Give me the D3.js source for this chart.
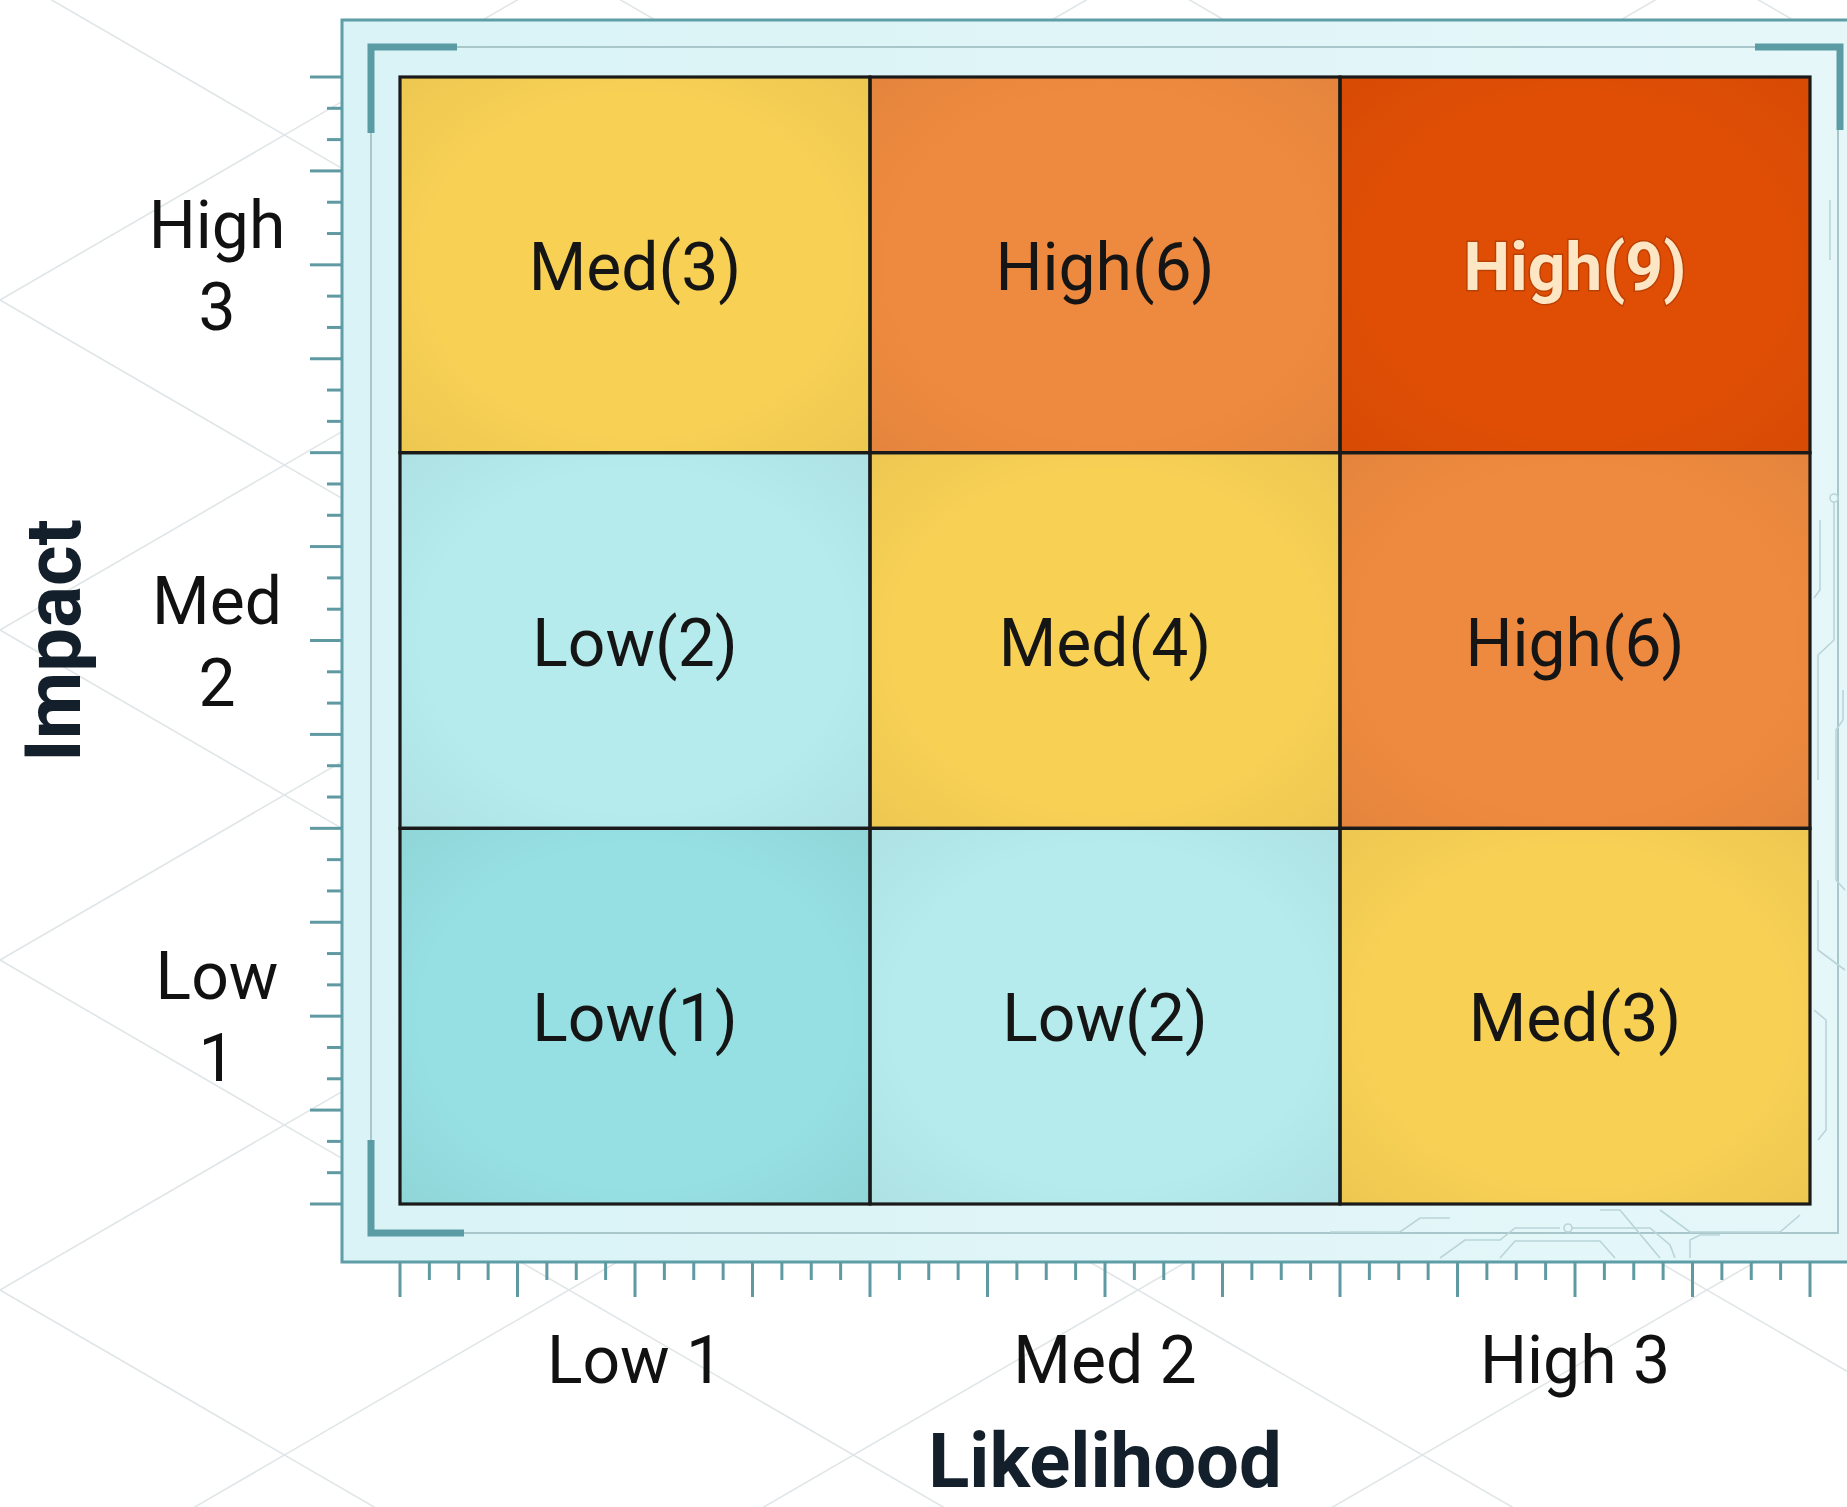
<!DOCTYPE html>
<html>
<head>
<meta charset="utf-8">
<script src="https://cdn.jsdelivr.net/npm/d3@7"></script>
<style>
  html, body { margin: 0; padding: 0; background: #ffffff; }
  svg { display: block; }
  text { font-family: Roboto, "Noto Sans", "Liberation Sans", sans-serif; }
</style>
</head>
<body>
<svg id="chart" width="1847" height="1507"></svg>
<script>
// ---------- data ----------
const likelihoodLabels = ["Low 1", "Med 2", "High 3"];
const impactLevels = ["Low", "Med", "High"];
const impactScores = ["1", "2", "3"];
// rows: impact Low, Med, High ; columns: likelihood Low, Med, High
const riskScores = [
  [1, 2, 3],
  [2, 4, 6],
  [3, 6, 9]
];
const riskRatings = [
  ["Low", "Low", "Med"],
  ["Low", "Med", "High"],
  ["Med", "High", "High"]
];
const scoreColors = { 1: "#96dfe2", 2: "#b5ebed", 3: "#f7d054", 4: "#f7d054", 6: "#ee8a3f", 9: "#e04e05" };

// ---------- layout ----------
const W = 1847, H = 1507;
const gx0 = 400, gx1 = 1810, gy0 = 77, gy1 = 1204;
const fx0 = 342, fy0 = 20, fy1 = 1262;

const svg = d3.select("#chart");

// background lattice
const bg = svg.append("g").attr("stroke", "#e0e6e8").attr("stroke-width", 1.6).attr("fill", "none");
const slope = 0.58, sp = 330;
for (let c = -3000; c < 3500; c += sp) {
  bg.append("line").attr("x1", 0).attr("y1", c).attr("x2", W).attr("y2", c + slope * W);
  bg.append("line").attr("x1", 0).attr("y1", c).attr("x2", W).attr("y2", c - slope * W);
}

// frame
const defs = svg.append("defs");
const fg = defs.append("linearGradient").attr("id", "frameFill").attr("x1", 0).attr("y1", 0).attr("x2", 1).attr("y2", 0);
fg.append("stop").attr("offset", 0).attr("stop-color", "#d9f3f6");
fg.append("stop").attr("offset", 1).attr("stop-color", "#e6f7f9");
svg.append("rect").attr("x", fx0).attr("y", fy0).attr("width", W + 40 - fx0).attr("height", fy1 - fy0)
  .attr("fill", "url(#frameFill)").attr("stroke", "#5e9ea7").attr("stroke-width", 3);

// inner thin lines
const inner = svg.append("g").attr("stroke", "#a9c6ca").attr("stroke-width", 2).attr("fill", "none");
inner.append("path").attr("d", `M371,47 H1838 V1233 H371 Z`);

// circuit decoration (faint)
const circ = svg.append("g").attr("stroke", "#b9d5d8").attr("stroke-width", 1.6).attr("fill", "none");
circ.append("path").attr("d", "M1330,1232 L1400,1232 L1420,1218 L1450,1218");
circ.append("path").attr("d", "M1440,1258 L1465,1240 L1500,1240 L1515,1228 L1560,1228");
circ.append("circle").attr("cx", 1568).attr("cy", 1228).attr("r", 4);
circ.append("path").attr("d", "M1572,1228 L1620,1228 L1650,1228 L1670,1245 L1675,1258");
circ.append("path").attr("d", "M1500,1258 L1515,1241 L1600,1241 L1615,1258");
circ.append("path").attr("d", "M1600,1210 L1620,1210 L1660,1258");
circ.append("path").attr("d", "M1660,1210 L1690,1232 L1780,1232 L1800,1215");
circ.append("path").attr("d", "M1690,1258 L1690,1240 L1700,1235 L1720,1235");
circ.append("path").attr("d", "M1830,200 L1830,260");
circ.append("circle").attr("cx", 1834).attr("cy", 498).attr("r", 4);
circ.append("path").attr("d", "M1834,502 L1834,640 L1818,655 L1818,780");
circ.append("path").attr("d", "M1820,520 L1820,590 L1814,598");
circ.append("path").attr("d", "M1843,690 L1843,720 L1836,730 L1836,880 L1845,890");
circ.append("path").attr("d", "M1818,880 L1818,950 L1845,970");
circ.append("path").attr("d", "M1814,1010 L1826,1020 L1826,1130 L1818,1140");

// corner brackets
const br = svg.append("g").attr("stroke", "#5a9ba4").attr("stroke-width", 7).attr("fill", "none");
br.append("path").attr("d", "M371,133 V47 H457");
br.append("path").attr("d", "M371,1140 V1233 H464");
br.append("path").attr("d", "M1755,47 H1840 V130");

// ---------- scales ----------
const x = d3.scaleBand().domain(likelihoodLabels).range([gx0, gx1]);
const y = d3.scaleBand().domain(impactLevels).range([gy1, gy0]);

// minor/major tick scales
const yt = d3.scaleLinear().domain([0, 36]).range([gy0, gy1]);
const xt = d3.scaleLinear().domain([0, 48]).range([gx0, gx1]);
const ticks = svg.append("g").attr("stroke", "#5f9aa2").attr("stroke-width", 3);
d3.range(0, 37).forEach(i => {
  ticks.append("line").attr("x1", i % 3 === 0 ? 310 : 327).attr("x2", fx0)
    .attr("y1", yt(i)).attr("y2", yt(i));
});
d3.range(0, 49).forEach(i => {
  ticks.append("line").attr("y1", fy1).attr("y2", i % 4 === 0 ? 1297 : 1280)
    .attr("x1", xt(i)).attr("x2", xt(i));
});

// ---------- cells ----------
const cells = [];
impactLevels.forEach((imp, r) => {
  likelihoodLabels.forEach((lik, c) => {
    cells.push({ imp, lik, score: riskScores[r][c], rating: riskRatings[r][c] });
  });
});

const cg = svg.append("g");
cg.selectAll("rect").data(cells).join("rect")
  .attr("x", d => x(d.lik)).attr("y", d => y(d.imp))
  .attr("width", x.bandwidth()).attr("height", y.bandwidth())
  .attr("fill", d => scoreColors[d.score]);

// subtle inner shading
const sh = defs.append("radialGradient").attr("id", "shade").attr("cx", 0.5).attr("cy", 0.5).attr("r", 0.75);
sh.append("stop").attr("offset", 0.6).attr("stop-color", "#000").attr("stop-opacity", 0);
sh.append("stop").attr("offset", 1).attr("stop-color", "#000").attr("stop-opacity", 0.05);
cg.selectAll("rect.shade").data(cells).join("rect").attr("class", "shade")
  .attr("x", d => x(d.lik)).attr("y", d => y(d.imp))
  .attr("width", x.bandwidth()).attr("height", y.bandwidth())
  .attr("fill", "url(#shade)");

// grid lines
const gl = svg.append("g").attr("stroke", "#1a1a1a").attr("stroke-width", 3.2).attr("fill", "none");
gl.selectAll("rect").data(cells).join("rect")
  .attr("x", d => x(d.lik)).attr("y", d => y(d.imp))
  .attr("width", x.bandwidth()).attr("height", y.bandwidth());

// cell labels
svg.append("g").selectAll("text").data(cells).join("text")
  .attr("x", d => x(d.lik) + x.bandwidth() / 2)
  .attr("y", d => y(d.imp) + y.bandwidth() / 2 + 25)
  .attr("text-anchor", "middle")
  .attr("font-size", 66)
  .attr("font-weight", d => d.score === 9 ? 700 : 400)
  .attr("fill", d => d.score === 9 ? "#fde6c4" : "#151515")
  .attr("stroke", d => d.score === 9 ? "rgba(120,40,0,0.35)" : "none")
  .attr("stroke-width", d => d.score === 9 ? 3 : 0)
  .attr("paint-order", "stroke")
  .text(d => `${d.rating}(${d.score})`);

// ---------- axis labels ----------
const yl = svg.append("g");
impactLevels.forEach((lvl, i) => {
  const cy = y(lvl) + y.bandwidth() / 2;
  const t = yl.append("text").attr("text-anchor", "middle").attr("font-size", 66).attr("fill", "#111");
  t.append("tspan").attr("x", 217).attr("y", cy - 17).text(lvl);
  t.append("tspan").attr("x", 217).attr("y", cy + 65).text(impactScores[i]);
});

svg.append("g").selectAll("text").data(likelihoodLabels).join("text")
  .attr("x", d => x(d) + x.bandwidth() / 2)
  .attr("y", 1383)
  .attr("text-anchor", "middle").attr("font-size", 66).attr("fill", "#111")
  .text(d => d);

// titles
svg.append("text")
  .attr("transform", `translate(80, ${(gy0 + gy1) / 2}) rotate(-90)`)
  .attr("text-anchor", "middle").attr("font-size", 78).attr("font-weight", 700).attr("fill", "#13202b")
  .text("Impact");
svg.append("text")
  .attr("x", (gx0 + gx1) / 2).attr("y", 1487)
  .attr("text-anchor", "middle").attr("font-size", 76).attr("font-weight", 700).attr("fill", "#13202b")
  .text("Likelihood");
</script>
</body>
</html>
